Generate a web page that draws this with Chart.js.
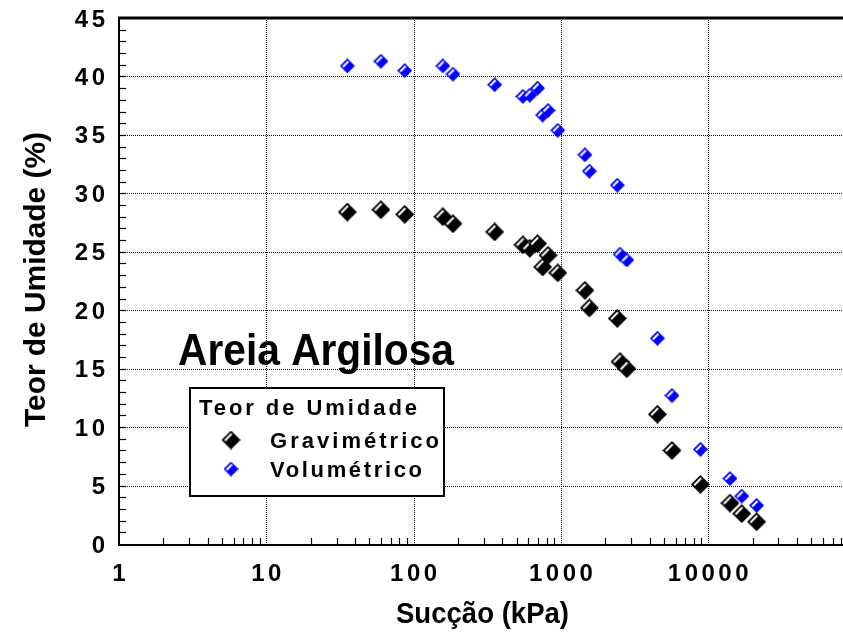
<!DOCTYPE html>
<html>
<head>
<meta charset="utf-8">
<script src="https://cdn.jsdelivr.net/npm/chart.js@4.4.1/dist/chart.umd.min.js"></script>
<style>
  html, body { margin: 0; padding: 0; background: #fff; }
  #grafico { display: block; }
</style>
</head>
<body>
<canvas id="grafico" width="843" height="636"></canvas>
<script>
// dados (sucção em kPa, teor de umidade em %)
const succao = [35.5, 60, 87, 158, 185, 355, 552, 615, 694, 752, 818, 952, 1455, 1560, 2415, 2520, 2800, 4520, 5675, 8850, 14060, 16880, 21300];
const gravimetrico = [28.4, 28.6, 28.2, 28.0, 27.4, 26.7, 25.6, 25.3, 25.7, 23.7, 24.7, 23.2, 21.7, 20.2, 19.3, 15.6, 15.0, 11.1, 8.0, 5.1, 3.5, 2.6, 1.9];
const volumetrico = [40.9, 41.3, 40.5, 40.9, 40.2, 39.3, 38.3, 38.4, 39.0, 36.7, 37.1, 35.4, 33.3, 31.9, 30.7, 24.8, 24.3, 17.6, 12.7, 8.1, 5.6, 4.1, 3.3];
const xTicks = [1, 10, 100, 1000, 10000];
const yTicks = [0, 5, 10, 15, 20, 25, 30, 35, 40, 45];

const FONTE = '"Liberation Sans", Arial, sans-serif';

// losango com brilho branco junto à aresta superior esquerda
function losango(cor, tam) {
  const c = document.createElement('canvas');
  c.width = tam; c.height = tam;
  const g = c.getContext('2d');
  const h = tam / 2;
  g.fillStyle = cor;
  g.beginPath();
  g.moveTo(h, 0); g.lineTo(tam, h); g.lineTo(h, tam); g.lineTo(0, h);
  g.closePath();
  g.fill();
  const d = 2.0;
  g.strokeStyle = '#fff';
  g.lineWidth = 2;
  g.lineCap = 'butt';
  g.beginPath();
  g.moveTo(h * 0.14 + d, h * 0.86 + d);
  g.lineTo(h * 0.86 + d, h * 0.14 + d);
  g.stroke();
  return c;
}
const marcaPreta = losango('#000', 19);
const marcaAzul = losango('#0000ff', 15);

// texto esticado/comprimido para uma largura
function textoLargura(ctx, txt, x, y, largura, fonte) {
  ctx.save();
  ctx.font = fonte;
  ctx.letterSpacing = '0px';
  const w = ctx.measureText(txt).width;
  ctx.translate(x, y);
  ctx.scale(largura / w, 1);
  ctx.textAlign = 'left';
  ctx.textBaseline = 'alphabetic';
  ctx.fillText(txt, 0, 0);
  ctx.restore();
}

// texto espaçado para uma largura
function textoEspacado(ctx, txt, x, y, largura, fonte) {
  ctx.save();
  ctx.font = fonte;
  ctx.letterSpacing = '0px';
  const w = ctx.measureText(txt).width;
  const esp = (largura - w) / (txt.length - 1);
  ctx.letterSpacing = esp + 'px';
  ctx.textAlign = 'left';
  ctx.textBaseline = 'alphabetic';
  ctx.fillText(txt, x, y);
  ctx.restore();
}

const eixos = {
  id: 'eixos',
  beforeDatasetsDraw(chart) {
    const ctx = chart.ctx;
    const a = chart.chartArea;
    const sx = chart.scales.x, sy = chart.scales.y;
    ctx.save();
    ctx.fillStyle = '#000';
    ctx.strokeStyle = '#000';

    // grade pontilhada
    ctx.lineWidth = 1;
    ctx.setLineDash([1, 1]);
    xTicks.slice(1).forEach(v => {
      const px = Math.round(sx.getPixelForValue(v)) + 0.5;
      ctx.beginPath(); ctx.moveTo(px, a.top); ctx.lineTo(px, a.bottom); ctx.stroke();
    });
    yTicks.slice(1, -1).forEach(v => {
      const py = Math.round(sy.getPixelForValue(v)) + 0.5;
      ctx.beginPath(); ctx.moveTo(a.left, py); ctx.lineTo(a.right, py); ctx.stroke();
    });
    ctx.setLineDash([]);

    // marcas menores
    ctx.lineWidth = 1.2;
    for (let d = 1; d <= 10000; d *= 10) {
      for (let k = 2; k <= 9; k++) {
        const v = d * k;
        if (v > sx.max) break;
        const px = Math.round(sx.getPixelForValue(v)) + 0.5;
        ctx.beginPath(); ctx.moveTo(px, a.bottom); ctx.lineTo(px, a.bottom - 6); ctx.stroke();
      }
    }
    for (let v = 1; v < 45; v++) {
      const py = Math.round(sy.getPixelForValue(v)) + 0.5;
      ctx.beginPath(); ctx.moveTo(a.left, py); ctx.lineTo(a.left + 7, py); ctx.stroke();
    }

    // linhas dos eixos
    ctx.lineWidth = 2;
    ctx.beginPath(); ctx.moveTo(a.left, a.top); ctx.lineTo(a.left, a.bottom + 1); ctx.lineTo(a.right, a.bottom + 1); ctx.stroke();
    ctx.lineWidth = 3;
    ctx.beginPath(); ctx.moveTo(a.left - 1, a.top); ctx.lineTo(a.right, a.top); ctx.stroke();

    // rótulos das marcas
    const esp = 3.5;
    ctx.font = 'bold 24px ' + FONTE;
    ctx.letterSpacing = esp + 'px';
    ctx.textBaseline = 'alphabetic';
    ctx.textAlign = 'right';
    yTicks.forEach(v => {
      ctx.fillText(String(v), 105 + esp, sy.getPixelForValue(v) + 8.5);
    });
    ctx.textAlign = 'center';
    xTicks.forEach(v => {
      ctx.fillText(String(v), sx.getPixelForValue(v) + esp / 2, 581);
    });
    ctx.letterSpacing = '0px';

    // títulos dos eixos
    textoLargura(ctx, 'Sucção (kPa)', 396, 623, 173, 'bold 30px ' + FONTE);
    ctx.save();
    ctx.translate(45, 427);
    ctx.rotate(-Math.PI / 2);
    textoLargura(ctx, 'Teor de Umidade (%)', 0, 0, 295, 'bold 29px ' + FONTE);
    ctx.restore();
    ctx.restore();
  },
  afterDatasetsDraw(chart) {
    const ctx = chart.ctx;
    ctx.save();
    ctx.fillStyle = '#000';
    textoLargura(ctx, 'Areia Argilosa', 178, 365, 276, 'bold 45px ' + FONTE);

    // legenda
    ctx.fillStyle = '#fff';
    ctx.fillRect(190, 388, 254, 108);
    ctx.strokeStyle = '#000';
    ctx.lineWidth = 2;
    ctx.strokeRect(190, 388, 254, 108);
    ctx.fillStyle = '#000';
    textoEspacado(ctx, 'Teor de Umidade', 199, 415, 218, 'bold 22px ' + FONTE);
    ctx.drawImage(marcaPreta, 231 - 9.5, 440 - 9.5);
    textoEspacado(ctx, 'Gravimétrico', 270, 448, 169, 'bold 22px ' + FONTE);
    ctx.drawImage(marcaAzul, 231 - 7.5, 469 - 7.5);
    textoEspacado(ctx, 'Volumétrico', 270, 477, 152, 'bold 22px ' + FONTE);
    ctx.restore();
  }
};

const ctx = document.getElementById('grafico').getContext('2d');
new Chart(ctx, {
  type: 'scatter',
  data: {
    datasets: [{
      label: 'Gravimétrico',
      data: succao.map((x, i) => ({ x: x, y: gravimetrico[i] })),
      pointStyle: marcaPreta,
      pointRadius: 10
    }, {
      label: 'Volumétrico',
      data: succao.map((x, i) => ({ x: x, y: volumetrico[i] })),
      pointStyle: marcaAzul,
      pointRadius: 8
    }]
  },
  options: {
    responsive: false,
    animation: false,
    devicePixelRatio: 1,
    layout: { autoPadding: false, padding: { top: 18, right: 0, bottom: 0, left: 0 } },
    plugins: { legend: { display: false }, tooltip: { enabled: false } },
    scales: {
      x: {
        type: 'logarithmic',
        min: 1,
        max: 82250,
        grid: { display: false, drawTicks: false },
        border: { display: false },
        ticks: { display: false },
        afterFit: s => { s.height = 92; }
      },
      y: {
        min: 0,
        max: 45,
        grid: { display: false, drawTicks: false },
        border: { display: false },
        ticks: { display: false, stepSize: 5 },
        afterFit: s => { s.width = 119; }
      }
    }
  },
  plugins: [eixos]
});
</script>
</body>
</html>
